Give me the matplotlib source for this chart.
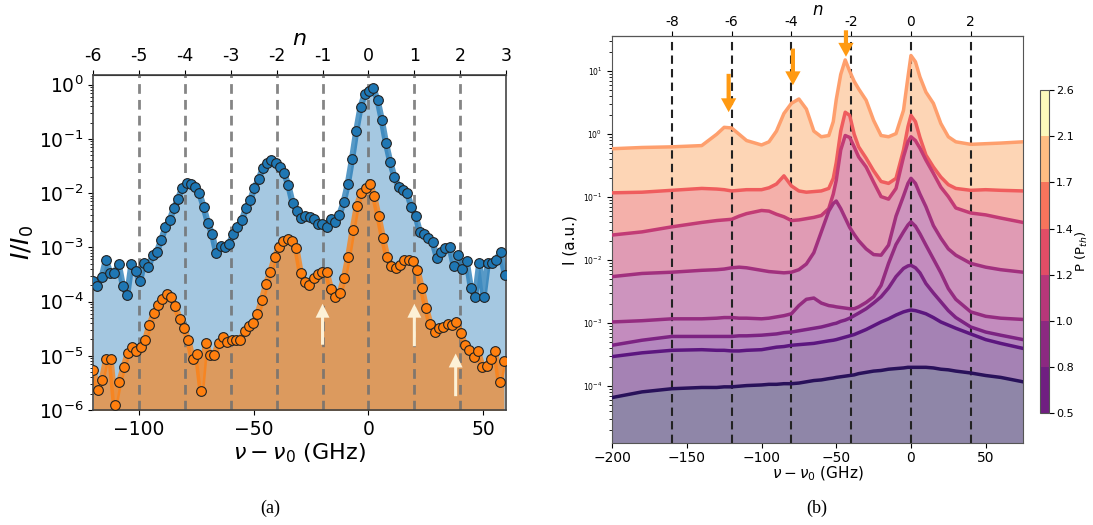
import numpy as np
import matplotlib
matplotlib.use("Agg")
import matplotlib.pyplot as plt
from matplotlib.colors import ListedColormap, BoundaryNorm, Normalize
from matplotlib.cm import ScalarMappable

# ---------------- panel (a) : log10(I/I0) ----------------
blue_log = [-3.63, -3.72, -3.54, -3.23, -3.48, -3.47, -3.31, -3.72, -3.88, -3.31,
            -3.44, -3.63, -3.28, -3.37, -3.14, -3.08, -2.87, -2.63, -2.50, -2.28,
            -2.10, -1.90, -1.82, -1.83, -1.88, -2.00, -2.25, -2.55, -2.75, -3.11,
            -2.97, -2.99, -2.93, -2.76, -2.63, -2.50, -2.28, -2.13, -1.90, -1.74,
            -1.53, -1.44, -1.39, -1.44, -1.51, -1.63, -1.86, -2.19, -2.33,
            -2.46, -2.43, -2.45, -2.47, -2.57, -2.57, -2.63, -2.47, -2.54, -2.40,
            -2.17, -1.83, -1.37, -0.85, -0.41, -0.17, -0.12, -0.07, -0.28, -0.65,
            -1.08, -1.43, -1.71, -1.88, -1.94, -2.00, -2.26, -2.43, -2.72, -2.76,
            -2.83, -2.91, -3.19, -3.08, -3.02, -3.00, -3.35, -3.14, -3.40, -3.25,
            -3.75, -3.91, -3.28, -3.91, -3.29, -3.29, -3.23, -3.08, -3.51]
orange_log = [-5.26, -5.63, -5.45, -5.05, -5.05, -5.91, -5.49, -5.21, -4.95, -4.84,
              -4.92, -4.83, -4.71, -4.43, -4.22, -4.07, -3.96, -3.86, -3.91, -4.09,
              -4.32, -4.49, -4.71, -5.06, -4.97, -5.64, -4.76, -4.98, -4.98, -4.76,
              -4.66, -4.74, -4.70, -4.70, -4.70, -4.55, -4.45, -4.40, -4.23, -3.97,
              -3.67, -3.45, -3.18, -3.00, -2.89, -2.85, -2.89, -3.02,
              -3.48, -3.64, -3.70, -3.57, -3.50, -3.46, -3.46, -3.77, -3.91, -3.85,
              -3.57, -3.17, -2.68, -2.23, -2.00, -1.91, -1.83, -2.06, -2.43, -2.82,
              -3.17, -3.35, -3.38, -3.32, -3.23, -3.24, -3.26, -3.42, -3.75, -4.11,
              -4.42, -4.57, -4.49, -4.47, -4.42, -4.43, -4.37, -4.58, -4.80, -4.89,
              -5.03, -4.91, -5.20, -5.18, -5.05, -4.91, -5.48, -5.09]
blue_span = (-119.9, 59.4)     # GHz, first / last sample
orange_span = (-119.9, 59.0)
fsr = 20.0                     # GHz per mode number n
modes_a = [-5, -4, -3, -2, -1, 0, 1, 2]
n_ticks_a = [-6, -5, -4, -3, -2, -1, 0, 1, 2, 3]
arrow_a_x = [-20, 20, 38]
arrow_a_tip = [9.1e-5, 9.1e-5, 1.1e-5]
arrow_a_tail = [1.6e-5, 1.5e-5, 1.8e-6]

# ---------------- panel (b) : log10 I (a.u.) on a common detuning grid ----------------
det_b = [-200, -180, -160, -140, -130, -125, -120, -115, -110, -100, -95, -90, -85, -80,
         -75, -70, -65, -60, -55, -52, -50, -47, -44, -41, -38, -35, -30, -25, -20, -15,
         -10, -5, -2, 0, 3, 6, 10, 15, 20, 25, 30, 40, 50, 60, 75]
spec_b = [
    [-0.23, -0.21, -0.20, -0.18, 0.00, 0.11, 0.10, 0.00, -0.10, -0.17, -0.12, 0.05, 0.33, 0.49,
     0.56, 0.40, 0.05, -0.04, -0.02, 0.20, 0.55, 0.95, 1.18, 1.00, 0.84, 0.72, 0.54, 0.22, -0.02, -0.04,
     0.01, 0.38, 0.91, 1.25, 1.15, 0.91, 0.67, 0.49, 0.17, -0.04, -0.12, -0.16, -0.15, -0.14, -0.12],
    [-0.93, -0.92, -0.89, -0.86, -0.87, -0.88, -0.90, -0.89, -0.88, -0.88, -0.85, -0.79, -0.66, -0.82,
     -0.90, -0.92, -0.91, -0.90, -0.86, -0.70, -0.45, 0.05, 0.35, 0.30, 0.00, -0.20, -0.38, -0.58, -0.75, -0.78,
     -0.70, -0.25, 0.12, 0.30, 0.20, -0.05, -0.33, -0.52, -0.68, -0.80, -0.86, -0.89, -0.88, -0.89, -0.90],
    [-1.60, -1.55, -1.47, -1.40, -1.37, -1.36, -1.35, -1.30, -1.26, -1.21, -1.22, -1.27, -1.31, -1.37,
     -1.36, -1.34, -1.32, -1.29, -1.18, -0.95, -0.73, -0.25, -0.02, -0.05, -0.20, -0.36, -0.52, -0.76, -0.99, -1.03,
     -0.86, -0.36, -0.12, -0.04, -0.10, -0.22, -0.41, -0.62, -0.84, -0.99, -1.17, -1.25, -1.28, -1.33, -1.40],
    [-2.26, -2.21, -2.19, -2.16, -2.15, -2.14, -2.12, -2.11, -2.12, -2.16, -2.18, -2.19, -2.20, -2.19,
     -2.15, -2.06, -1.88, -1.55, -1.22, -1.10, -1.06, -1.18, -1.33, -1.48, -1.59, -1.69, -1.82, -1.91, -1.92, -1.76,
     -1.30, -0.98, -0.78, -0.70, -0.78, -0.95, -1.15, -1.45, -1.65, -1.82, -1.92, -2.05, -2.11, -2.15, -2.19],
    [-2.98, -2.96, -2.93, -2.93, -2.92, -2.91, -2.91, -2.92, -2.92, -2.93, -2.92, -2.90, -2.88, -2.85,
     -2.72, -2.62, -2.60, -2.68, -2.72, -2.73, -2.74, -2.75, -2.76, -2.77, -2.77, -2.74, -2.67, -2.58, -2.40, -2.05,
     -1.75, -1.55, -1.44, -1.39, -1.46, -1.58, -1.76, -1.98, -2.20, -2.45, -2.62, -2.82, -2.89, -2.92, -2.94],
    [-3.35, -3.27, -3.21, -3.21, -3.21, -3.21, -3.21, -3.20, -3.20, -3.19, -3.18, -3.17, -3.15, -3.14,
     -3.12, -3.10, -3.08, -3.06, -3.03, -3.01, -3.00, -2.97, -2.95, -2.92, -2.88, -2.84, -2.77, -2.68, -2.58, -2.44,
     -2.26, -2.13, -2.09, -2.08, -2.12, -2.20, -2.37, -2.52, -2.66, -2.80, -2.91, -3.06, -3.14, -3.19, -3.26],
    [-3.53, -3.47, -3.43, -3.42, -3.43, -3.43, -3.44, -3.44, -3.43, -3.42, -3.40, -3.38, -3.37, -3.35,
     -3.34, -3.33, -3.32, -3.30, -3.28, -3.27, -3.26, -3.24, -3.22, -3.20, -3.18, -3.15, -3.10, -3.04, -2.98, -2.93,
     -2.87, -2.82, -2.80, -2.79, -2.80, -2.82, -2.85, -2.91, -2.98, -3.03, -3.08, -3.17, -3.26, -3.32, -3.40],
    [-4.18, -4.09, -4.04, -4.02, -4.02, -4.01, -4.01, -4.00, -3.99, -3.98, -3.97, -3.97, -3.96, -3.96,
     -3.95, -3.93, -3.91, -3.90, -3.88, -3.87, -3.86, -3.85, -3.84, -3.83, -3.82, -3.80, -3.78, -3.76, -3.75, -3.73,
     -3.72, -3.71, -3.70, -3.70, -3.70, -3.70, -3.70, -3.71, -3.73, -3.74, -3.76, -3.79, -3.83, -3.86, -3.93],
]
power_b = [1.86, 1.50, 1.17, 0.96, 0.88, 0.73, 0.52, 0.21]     # P / P_th of each trace
band_colors = ['#fdd5b5', '#f4b0aa', '#e09bb4', '#cd94be', '#c38cbe', '#b487be', '#a582b4', '#8f86a8']
modes_b = [-8, -6, -4, -2, 0, 2]
cbar_bounds = [0.5, 0.8, 1.0, 1.2, 1.4, 1.7, 2.1, 2.6]
cbar_pos = [0.33, 0.40, 0.50, 0.61, 0.71, 0.86, 0.99]   # where each bin sits in magma
arrow_b_x = [-122, -79, -43.5]
arrow_b_tip = [2.24, 6.0, 17.0]
arrow_b_tail = [9.1, 22.9, 44.7]

pnorm = Normalize(vmin=-0.2, vmax=2.38)   # magma scaling of the power

fig = plt.figure(figsize=(10.93, 5.25), dpi=100)

# ================= (a) =================
ax1 = fig.add_axes([0.0851, 0.219, 0.378, 0.638])
bx = np.linspace(blue_span[0], blue_span[1], len(blue_log))
ox = np.linspace(orange_span[0], orange_span[1], len(orange_log))
by = 10 ** np.array(blue_log)
oy = 10 ** np.array(orange_log)

ax1.fill_between(bx, 1e-8, by, color='C0', alpha=0.4, lw=0, zorder=1)
ax1.fill_between(ox, 1e-8, oy, color='C1', alpha=0.62, lw=0, zorder=1.1)
for n in modes_a:
    ax1.axvline(n * fsr, color='#707070', ls='--', lw=2, dashes=(3.5, 2.2), alpha=0.85, zorder=1.5)
ax1.plot(bx, by, color='C0', lw=4.5, alpha=0.75, zorder=2)
ax1.plot(ox, oy, color='C1', lw=4.5, alpha=0.75, zorder=2)
ax1.plot(bx, by, 'o', ls='none', ms=7, mfc='C0', mec='#222222', mew=0.8, zorder=3)
ax1.plot(ox, oy, 'o', ls='none', ms=7, mfc='C1', mec='#222222', mew=0.8, zorder=3)

for x, tip, tail in zip(arrow_a_x, arrow_a_tip, arrow_a_tail):
    ax1.annotate('', xy=(x, tip), xytext=(x, tail),
                 arrowprops=dict(facecolor='#fdf1d6', edgecolor='none', width=2.2,
                                 headwidth=10, headlength=10, shrink=0), zorder=4)

ax1.set_yscale('log')
ax1.set_xlim(-120, 60)
ax1.set_ylim(1e-6, 1.5)
ax1.set_xticks([-100, -50, 0, 50])
ax1.tick_params(labelsize=13.5)
ax1.set_xlabel(r'$\nu - \nu_0$ (GHz)', fontsize=16, labelpad=2)
ax1.set_ylabel(r'$I/I_0$', fontsize=18, labelpad=2)
for s in ax1.spines.values():
    s.set_color('#444444')
    s.set_linewidth(1.2)

top1 = ax1.secondary_xaxis('top', functions=(lambda f: f / fsr, lambda n: n * fsr))
top1.set_xticks(n_ticks_a, labels=[str(v) for v in n_ticks_a])
top1.tick_params(labelsize=12.5)
top1.set_xlabel('$n$', fontsize=16, labelpad=2)

# ================= (b) =================
ax2 = fig.add_axes([0.560, 0.156, 0.376, 0.775])
det = np.array(det_b)
for k, curve in enumerate(spec_b):
    ax2.fill_between(det, 1e-7, 10 ** np.array(curve), color=band_colors[k], lw=0, zorder=1 + 0.01 * k)
for n in modes_b:
    ax2.axvline(n * fsr, color='#222222', ls='--', lw=1.5, dashes=(4, 2.5), zorder=2)
for k, curve in enumerate(spec_b):
    ax2.plot(det, 10 ** np.array(curve), color=plt.cm.magma(pnorm(power_b[k])), lw=2.5, zorder=3)

for x, tip, tail in zip(arrow_b_x, arrow_b_tip, arrow_b_tail):
    ax2.annotate('', xy=(x, tip), xytext=(x, tail), annotation_clip=False,
                 arrowprops=dict(facecolor='#ff9a12', edgecolor='none', width=3,
                                 headwidth=11, headlength=10, shrink=0), zorder=4)

ax2.set_yscale('log')
ax2.set_xlim(-200, 75)
ax2.set_ylim(1.25e-5, 36)
ax2.tick_params(axis='x', labelsize=10, pad=2)
ax2.tick_params(axis='y', which='major', labelsize=5.5)
ax2.set_xlabel(r'$\nu - \nu_0$ (GHz)', fontsize=11, labelpad=0)
ax2.set_ylabel('I (a.u.)', fontsize=11)
for s in ax2.spines.values():
    s.set_color('#555555')

top2 = ax2.secondary_xaxis('top', functions=(lambda f: f / fsr, lambda n: n * fsr))
top2.set_xticks(modes_b, labels=[str(v) for v in modes_b])
top2.tick_params(labelsize=10, pad=1.5)
top2.set_xlabel('$n$', fontsize=12, labelpad=0)

cmap_bins = ListedColormap(plt.cm.magma(cbar_pos))
sm = ScalarMappable(norm=BoundaryNorm(cbar_bounds, len(cbar_pos)), cmap=cmap_bins)
cax = fig.add_axes([0.9515, 0.2133, 0.0078, 0.615])
cb = fig.colorbar(sm, cax=cax, ticks=cbar_bounds, spacing='uniform')
cb.ax.set_yticklabels([f'{b:.1f}' for b in cbar_bounds])
cb.ax.tick_params(labelsize=8, pad=2)
cb.set_label(r'P (P$_{th}$)', fontsize=9.5, labelpad=0)
cb.outline.set_edgecolor('#555555')

fig.text(0.247, 0.032, '(a)', family='Liberation Serif', fontsize=13, ha='center', va='center')
fig.text(0.7475, 0.032, '(b)', family='Liberation Serif', fontsize=13, ha='center', va='center')

fig.savefig('out.png', dpi=100)
